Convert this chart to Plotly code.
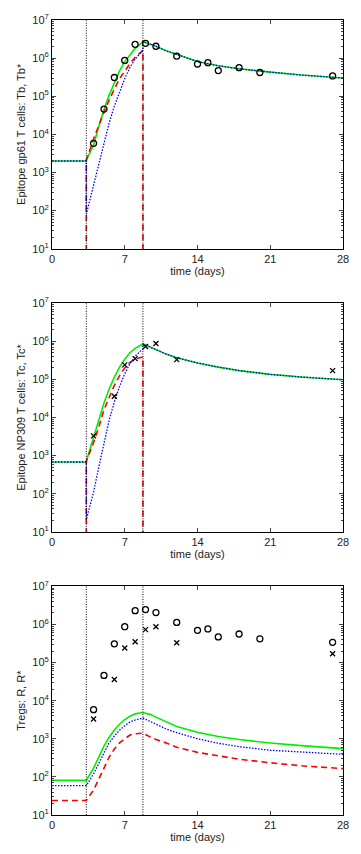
import plotly.graph_objects as go
from plotly.subplots import make_subplots

# event times (days)
t_start = 3.3
t_peak = 8.75

# time grids for the model curves
t_pre = [0, 3.3]
t_rise = [3.3, 4, 4.5, 5, 5.5, 6, 6.5, 7, 7.5, 8, 8.75]
t_post = [8.75, 9.5, 10, 11, 12, 14, 16, 18, 21, 24, 28]

zero_val = 1e-3  # red curve drops to zero outside the expansion phase

# panel 1: gp61 epitope
gp_pre = [2.0e3, 2.0e3]
gp_green_rise = [2.1e3, 5.2e3, 1.6e4, 4.5e4, 1.07e5, 2.3e5, 4.6e5, 8.1e5, 1.25e6, 1.8e6, 2.7e6]
gp_red_rise = [2.1e3, 7.5e3, 1.8e4, 3.8e4, 8.0e4, 1.6e5, 2.9e5, 4.5e5, 7.2e5, 1.05e6, 1.6e6]
gp_blue_rise = [80, 480, 1.6e3, 6.2e3, 2.0e4, 5.5e4, 1.35e5, 2.9e5, 5.7e5, 9.5e5, 1.6e6]
gp_post = [2.7e6, 2.3e6, 2.05e6, 1.55e6, 1.23e6, 8.1e5, 6.3e5, 5.25e5, 4.3e5, 3.6e5, 3.0e5]

# panel 2: NP309 epitope
np_pre = [680, 680]
np_green_rise = [710, 3.0e3, 9.0e3, 2.4e4, 5.6e4, 1.15e5, 2.1e5, 3.4e5, 5.0e5, 6.5e5, 8.5e5]
np_red_rise = [710, 2.2e3, 5.5e3, 1.6e4, 3.5e4, 7.0e4, 1.25e5, 2.0e5, 2.8e5, 3.4e5, 3.9e5]
np_blue_rise = [21, 110, 500, 2.2e3, 8.5e3, 2.6e4, 6.5e4, 1.4e5, 2.6e5, 4.1e5, 6.3e5]
np_post = [8.5e5, 6.9e5, 5.9e5, 4.6e5, 3.7e5, 2.7e5, 2.1e5, 1.7e5, 1.35e5, 1.15e5, 9.8e4]

# panel 3: Tregs
tr_green_pre = [81, 81]
tr_blue_pre = [59, 59]
tr_red_pre = [24, 24]
tr_green_rise = [81, 170, 330, 640, 1.1e3, 1.7e3, 2.4e3, 3.2e3, 3.9e3, 4.5e3, 4.9e3]
tr_blue_rise = [59, 120, 230, 450, 780, 1.18e3, 1.68e3, 2.2e3, 2.75e3, 3.1e3, 3.5e3]
tr_red_rise = [24, 45, 90, 180, 330, 540, 780, 1.0e3, 1.25e3, 1.35e3, 1.4e3]
tr_green_post = [4.9e3, 4.3e3, 3.7e3, 2.8e3, 2.1e3, 1.48e3, 1.15e3, 955, 775, 660, 550]
tr_blue_post = [3.5e3, 2.8e3, 2.4e3, 1.8e3, 1.45e3, 1.0e3, 760, 620, 500, 450, 390]
tr_red_post = [1.4e3, 1.1e3, 955, 775, 600, 440, 350, 290, 235, 195, 165]

# measured data
circ_days = [4, 5, 6, 7, 8, 9, 10, 12, 14, 15, 16, 18, 20, 27]
circ_vals = [5.8e3, 4.6e4, 3.1e5, 8.7e5, 2.3e6, 2.45e6, 2.05e6, 1.13e6, 7.0e5, 7.6e5, 4.7e5, 5.6e5, 4.2e5, 3.4e5]
cross_days = [4, 6, 7, 8, 9, 10, 12, 27]
cross_vals = [3.3e3, 3.6e4, 2.4e5, 3.5e5, 7.3e5, 8.7e5, 3.3e5, 1.7e5]

x_ticks = [0, 7, 14, 21, 28]
y_ticks = [1e1, 1e2, 1e3, 1e4, 1e5, 1e6, 1e7]
y_ticktext = ["10<sup>%d</sup>" % k for k in range(1, 8)]
y_titles = ["Epitope gp61 T cells: Tb, Tb*", "Epitope NP309 T cells: Tc, Tc*", "Tregs: R, R*"]

GREEN = "#00ee00"
RED = "#ff0000"
BLUE = "#0000ff"
DASH = "6px,4px"
DOT = "1.5px,1.5px"

fig = make_subplots(rows=3, cols=1, vertical_spacing=0.0685)


def add_line(x, y, color, dash, width, row):
    fig.add_trace(go.Scatter(x=x, y=y, mode="lines",
                             line=dict(color=color, dash=dash, width=width)),
                  row=row, col=1)


def add_marks(x, y, symbol, size, row):
    fig.add_trace(go.Scatter(x=x, y=y, mode="markers",
                             marker=dict(symbol=symbol, size=size, color="black",
                                         line=dict(color="black", width=1.3))),
                  row=row, col=1)


t_all = t_pre + t_rise + t_post
t_red = [t_start] + t_rise + [t_peak]

# panel 1
add_line(t_all, gp_pre + gp_green_rise + gp_post, GREEN, "solid", 1.6, 1)
add_line(t_red, [zero_val] + gp_red_rise + [zero_val], RED, DASH, 1.6, 1)
add_line(t_all, gp_pre + gp_blue_rise + gp_post, BLUE, DOT, 1.3, 1)
add_marks(circ_days, circ_vals, "circle-open", 6, 1)

# panel 2
add_line(t_all, np_pre + np_green_rise + np_post, GREEN, "solid", 1.6, 2)
add_line(t_red, [zero_val] + np_red_rise + [zero_val], RED, DASH, 1.6, 2)
add_line(t_all, np_pre + np_blue_rise + np_post, BLUE, DOT, 1.3, 2)
add_marks(cross_days, cross_vals, "x-thin-open", 5, 2)

# panel 3
add_line(t_all, tr_green_pre + tr_green_rise + tr_green_post, GREEN, "solid", 1.6, 3)
add_line(t_all, tr_blue_pre + tr_blue_rise + tr_blue_post, BLUE, DOT, 1.3, 3)
add_line(t_all, tr_red_pre + tr_red_rise + tr_red_post, RED, DASH, 1.6, 3)
add_marks(circ_days, circ_vals, "circle-open", 6, 3)
add_marks(cross_days, cross_vals, "x-thin-open", 5, 3)

for r in (1, 2, 3):
    for tv in (t_start, t_peak):
        fig.add_vline(x=tv, line=dict(color="black", dash="1px,1.5px", width=1), row=r, col=1)
    fig.update_xaxes(range=[0, 28], tickvals=x_ticks, ticks="inside", ticklen=4,
                     showline=True, linecolor="black", linewidth=1, mirror="allticks",
                     showgrid=False, zeroline=False,
                     title=dict(text="time (days)", standoff=3,
                                font=dict(size=11, color="#222")),
                     tickfont=dict(size=11, color="#222"), row=r, col=1)
    fig.update_yaxes(type="log", range=[1, 7], tickvals=y_ticks, ticktext=y_ticktext,
                     ticks="inside", ticklen=4,
                     minor=dict(ticks="inside", ticklen=2, dtick="D1", showgrid=False),
                     showline=True, linecolor="black", linewidth=1, mirror="allticks",
                     showgrid=False, zeroline=False,
                     title=dict(text=y_titles[r - 1], standoff=4,
                                font=dict(size=11, color="#222")),
                     tickfont=dict(size=11, color="#222"), row=r, col=1)

fig.update_layout(
    width=361, height=854,
    margin=dict(l=52, r=16, t=19, b=35),
    paper_bgcolor="white", plot_bgcolor="white",
    showlegend=False,
    font=dict(family="Liberation Sans, Arial, sans-serif", size=11, color="#222"),
)

# page has a default body margin; drop it so the figure sits at the window origin
fig.write_html("out.html", config={"displayModeBar": False},
               post_script="document.body.style.margin='0';document.body.style.overflow='hidden';")
